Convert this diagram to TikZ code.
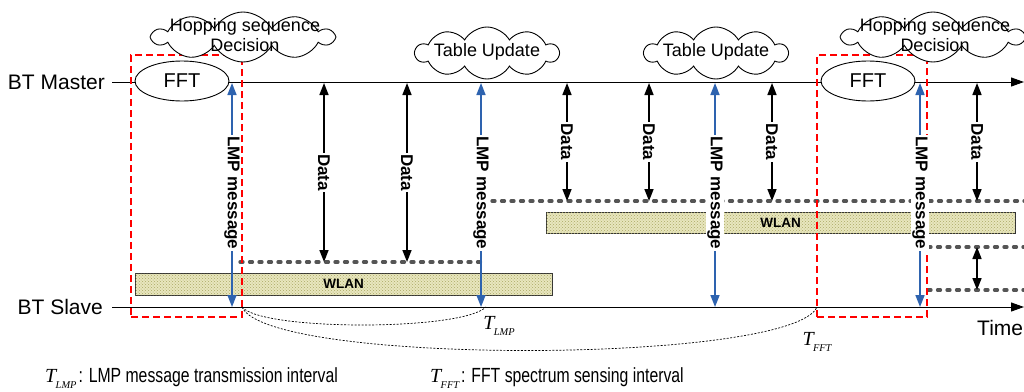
\documentclass[tikz,border=0pt]{standalone}
\usepackage{fontspec}
\setmainfont{Liberation Sans}
\newfontfamily\narrowsans[FakeStretch=0.77]{Liberation Sans}
\newfontfamily\serifit{Liberation Serif}
\usetikzlibrary{arrows.meta,shapes.geometric,shapes.symbols,patterns}

% interval symbol T with a small italic subscript
\newcommand\ivl[2]{{\serifit\itshape\fontsize{#2}{#2}\selectfont T\kern-0.6pt\raisebox{-0.28em}{\fontsize{0.52\dimexpr#2pt\relax}{1pt}\selectfont #1}}}

\definecolor{lmpblue}{RGB}{46,99,175}
\definecolor{wlanfill}{RGB}{232,230,190}
\definecolor{wlandot}{RGB}{170,168,100}
\definecolor{gapgray}{RGB}{85,85,85}

\begin{document}
\begin{tikzpicture}[x=1pt,y=-1pt,
  timeline/.style={line width=1.0pt,-{Triangle[length=13pt,width=9pt]}},
  fftbox/.style={ellipse,draw,fill=white,line width=0.9pt,minimum width=94pt,minimum height=40pt,inner sep=0pt,font=\fontsize{20}{22}\selectfont},
  bubble/.style={cloud,cloud puffs=10,cloud puff arc=120,cloud ignores aspect,draw,fill=white,line width=0.9pt,inner sep=0pt},
  bubbletext/.style={font=\fontsize{18}{20}\selectfont,align=center,inner sep=0pt},
  lmp/.style={draw=lmpblue,line width=1.6pt,{Triangle[length=12pt,width=9pt]}-{Triangle[length=12pt,width=9pt]}},
  datalink/.style={draw=black,line width=1.6pt,{Triangle[length=12pt,width=9pt]}-{Triangle[length=12pt,width=9pt]}},
  tag/.style={fill=white,inner sep=1.5pt,rotate=-90,font=\bfseries\fontsize{17}{18}\selectfont},
  wlan/.style={draw=black!80,line width=0.8pt,fill=wlanfill,postaction={pattern=crosshatch dots,pattern color=wlandot},inner sep=0pt,font=\bfseries\fontsize{13.5}{14}\selectfont},
  gap/.style={draw=gapgray,line width=3.3pt,line cap=round,dash pattern=on 3pt off 6.5pt},
  sense/.style={draw=red,line width=1.8pt,dash pattern=on 7pt off 4pt,inner sep=0pt},
  span/.style={line width=0.7pt,dash pattern=on 2pt off 1.5pt},
  lbl/.style={font=\fontsize{21}{23}\selectfont,inner sep=0pt},
  legend/.style={anchor=west,inner sep=0pt,font=\narrowsans\fontsize{20.5}{22}\selectfont}
]
\useasboundingbox (0,0) rectangle (1024,391);

% WLAN occupancy bars
\node[wlan,minimum width=417pt,minimum height=22pt] (wlan1) at (343.5,284) {WLAN};
\node[wlan,minimum width=469pt,minimum height=21pt] (wlan2) at (780.5,222.5) {WLAN};

% WLAN idle levels
\coordinate (g1a) at (240,262);  \coordinate (g1b) at (486,262);
\coordinate (g2a) at (492,201);  \coordinate (g2b) at (1024,201);
\coordinate (g3a) at (928,247);  \coordinate (g3b) at (1024,247);
\coordinate (g4a) at (928,290);  \coordinate (g4b) at (1024,290);
\draw[gap] (g1a) -- (g1b);
\draw[gap] (g2a) -- (g2b);
\draw[gap] (g3a) -- (g3b);
\draw[gap] (g4a) -- (g4b);

% time axes
\node[lbl,anchor=east] (master) at (105,82) {BT Master};
\node[lbl,anchor=east] (slave) at (103,307) {BT Slave};
\coordinate (m0) at (112,82);  \coordinate (m1) at (1024,82);
\coordinate (s0) at (112,307); \coordinate (s1) at (1024,307);
\draw[timeline] (m0) -- (m1);
\draw[timeline] (s0) -- (s1);
\node[lbl,anchor=west] (time) at (977,328) {Time};

% FFT sensing windows
\node[sense,draw,minimum width=111pt,minimum height=262pt] (win1) at (186.5,186) {};
\node[sense,draw,minimum width=110pt,minimum height=262pt] (win2) at (872,186) {};

% FFT and annotations
\node[fftbox] (fft1) at (182,81) {FFT};
\node[fftbox] (fft2) at (868,81) {FFT};

\node[bubble,minimum width=180pt,minimum height=50pt] (hop1) at (243,37) {};
\node[bubbletext] (hop1t) at (245,35) {Hopping sequence\\Decision};
\node[bubble,minimum width=180pt,minimum height=50pt] (hop2) at (933,37) {};
\node[bubbletext] (hop2t) at (935,35) {Hopping sequence\\Decision};
\node[bubble,minimum width=143pt,minimum height=52pt] (tab1) at (487,53) {};
\node[bubbletext] (tab1t) at (487,52) {Table Update};
\node[bubble,minimum width=143pt,minimum height=52pt] (tab2) at (716,53) {};
\node[bubbletext] (tab2t) at (716,52) {Table Update};

% interval arcs
\coordinate (arcA) at (242,307);
\coordinate (arcB) at (486,307);
\coordinate (arcC) at (817,307);
\draw[span] (arcA) .. controls (262,331) and (462,331) .. (arcB);
\draw[span] (arcA) .. controls (268,366) and (792,364) .. (arcC);
\node[inner sep=0pt] (tlmp) at (499,326) {\ivl{LMP}{20}};
\node[inner sep=0pt] (tfft) at (817,342) {\ivl{FFT}{20}};

% LMP messages
\foreach \x [count=\i] in {232,481,715,920} {
  \coordinate (lu\i) at (\x,83);
  \coordinate (ld\i) at (\x,307);
  \draw[lmp] (lu\i) -- (ld\i) node[tag,pos=0.49] (lmptag\i) {LMP message};
}

% data exchanges
\foreach \x [count=\i] in {324,407} {
  \coordinate (da\i) at (\x,83);
  \coordinate (db\i) at (\x,262);
  \draw[datalink] (da\i) -- (db\i) node[tag,midway] (datatag\i) {Data};
}
\foreach \x [count=\i from 3] in {567,649,772,977} {
  \coordinate (da\i) at (\x,83);
  \coordinate (db\i) at (\x,201);
  \draw[datalink] (da\i) -- (db\i) node[tag,midway] (datatag\i) {Data};
}
\coordinate (h1) at (977,247);
\coordinate (h2) at (977,290);
\draw[datalink] (h1) -- (h2);

% legend
\node[legend] (leg1) at (45,378) {\ivl{LMP}{20}\kern2pt: LMP message transmission interval};
\node[legend] (leg2) at (430,378) {\ivl{FFT}{20}\kern2pt: FFT spectrum sensing interval};
\end{tikzpicture}
\end{document}
